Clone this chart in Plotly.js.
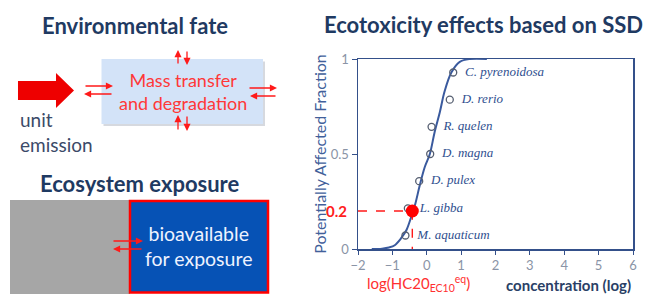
<!DOCTYPE html>
<html><head><meta charset="utf-8">
<script src="https://cdn.plot.ly/plotly-3.0.1.min.js"></script>
<style>html,body{margin:0;padding:0;background:#fff}#chart{width:646px;height:294px}</style>
</head><body><div id="chart"></div>
<script>
// ---- data ----
const species = ['C. pyrenoidosa','D. rerio','R. quelen','D. magna','D. pulex','L. gibba','M. aquaticum'];
const speciesLogConc = [0.77, 0.67, 0.14, 0.10, -0.22, -0.55, -0.62];
const speciesPAF = [0.929, 0.786, 0.643, 0.5, 0.357, 0.214, 0.071];
const ssdCurveX = [-1.6, -1.3, -1.1, -0.93, -0.74, -0.59, -0.45, -0.33, -0.21, -0.06, 0.09, 0.23, 0.38, 0.52, 0.72, 0.96, 1.25, 1.75];
const ssdCurveY = [0, 0.002, 0.008, 0.02, 0.058, 0.10, 0.17, 0.24, 0.33, 0.43, 0.50, 0.616, 0.72, 0.83, 0.93, 0.985, 1.0, 1.0];
const hc20LogConc = -0.42;
const hc20PAF = 0.2;
const xRange = [-2, 6];
const xTickVals = [-2, -1, 0, 1, 2, 3, 4, 5, 6];
const yTickVals = [0, 0.5, 1];
const yTickText = ['0', '0.5', '1'];

// ---- geometry helpers (pixel -> paper) ----
const W = 646, H = 294, ML = 358, MR = 13, MT = 59, MB = 45;
const PW = W - ML - MR, PH = H - MT - MB;
const px = x => (x - ML) / PW;
const py = y => (H - MB - y) / PH;

const RED = '#ff1a1a';
const NAVY = '#1f3a62';
const AXIS = '#34508a';

const traces = [
  { x: ssdCurveX, y: ssdCurveY, mode: 'lines', line: {color: '#3a5a9e', width: 2, shape: 'spline', smoothing: 1}, hoverinfo: 'skip', showlegend: false },
  { x: [xRange[0], hc20LogConc, hc20LogConc], y: [hc20PAF, hc20PAF, 0], mode: 'lines', line: {color: RED, width: 1.4, dash: 'dash'}, showlegend: false },
  { x: speciesLogConc, y: speciesPAF, text: species, texttemplate: '\u00a0\u00a0%{text}', mode: 'markers+text', textposition: 'middle right',
    textfont: {family: 'Liberation Serif, Times New Roman, serif', size: 13, color: '#2f4f8f', style: 'italic'},
    marker: {symbol: 'circle-open', size: 7, color: '#555e70', line: {width: 1.3}}, showlegend: false },
  { x: [hc20LogConc], y: [hc20PAF], mode: 'markers', marker: {color: '#ff0000', size: 13}, showlegend: false }
];

function arrow(hx, hy, ax, ay) {
  return {xref: 'paper', yref: 'paper', x: px(hx), y: py(hy), ax: ax, ay: ay, text: '', showarrow: true,
    arrowhead: 2, arrowsize: 1.1, arrowwidth: 1.3, arrowcolor: RED, standoff: 0, startstandoff: 0};
}
function label(text, x, y, size, color, opts) {
  return Object.assign({xref: 'paper', yref: 'paper', x: px(x), y: py(y), text: text, showarrow: false,
    font: {family: 'Lato', size: size, color: color}, xanchor: 'center', yanchor: 'middle'}, opts || {});
}

const bigArrow = [[18,81],[56,81],[56,73],[74,90.5],[56,108],[56,100],[18,100]]
  .map((p, i) => (i ? 'L' : 'M') + px(p[0]).toFixed(4) + ',' + py(p[1]).toFixed(4)).join(' ') + ' Z';

const layout = {
  width: W, height: H,
  margin: {l: ML, r: MR, t: MT, b: MB},
  paper_bgcolor: '#fff', plot_bgcolor: '#fff',
  title: {text: '<b>Ecotoxicity effects based on SSD</b>', x: 324 / W, xanchor: 'left', y: 1 - 25 / H, yanchor: 'middle',
    font: {family: 'Lato', size: 22, color: NAVY}},
  xaxis: {range: xRange, tickvals: xTickVals, showgrid: false, zeroline: false, showline: true, mirror: true,
    linecolor: AXIS, linewidth: 1.5, ticks: 'outside', ticklen: 4, tickcolor: AXIS,
    tickfont: {family: 'Lato', size: 13, color: '#8a94a6'}},
  yaxis: {range: [0, 1], tickvals: yTickVals, ticktext: yTickText, showgrid: false, zeroline: false, showline: true, mirror: true,
    linecolor: AXIS, linewidth: 1.5, ticks: 'outside', ticklen: 5, tickcolor: AXIS,
    tickfont: {family: 'Lato', size: 13, color: '#8a94a6'}, automargin: true,
    title: {text: 'Potentially Affected Fraction', standoff: 0, font: {family: 'Lato', size: 16, color: '#41609a'}}},
  shapes: [
    {type: 'rect', xref: 'paper', yref: 'paper', x0: px(103.5), x1: px(265), y0: py(61.5), y1: py(126), fillcolor: 'rgba(120,130,150,0.3)', line: {width: 0}, layer: 'below'},
    {type: 'rect', xref: 'paper', yref: 'paper', x0: px(101.5), x1: px(263), y0: py(59), y1: py(124), fillcolor: '#d3e3f8', line: {width: 0}, layer: 'below'},
    {type: 'path', xref: 'paper', yref: 'paper', path: bigArrow, fillcolor: '#ee0000', line: {width: 0}},
    {type: 'rect', xref: 'paper', yref: 'paper', x0: px(10), x1: px(130), y0: py(200), y1: py(300), fillcolor: '#a6a6a6', line: {width: 0}, layer: 'below'},
    {type: 'rect', xref: 'paper', yref: 'paper', x0: px(130), x1: px(268), y0: py(201), y1: py(292.5), fillcolor: '#0652b5', line: {width: 2.5, color: '#ff0000'}, layer: 'below'}
  ],
  annotations: [
    label('<b>Environmental fate</b>', 135, 26, 22, NAVY),
    label('<b>Ecosystem exposure</b>', 139.5, 183, 22, NAVY),
    label('Mass transfer<br>and degradation', 182.5, 91, 18, '#ff3838'),
    label('unit<br>emission', 18, 132, 19, '#3b4a68', {xanchor: 'left', align: 'left'}),
    label('bioavailable<br>for exposure', 198, 246, 19.5, '#eef3ff'),
    arrow(113, 86, -29, 0), arrow(84, 94, 29, 0),
    arrow(277, 88, -29, 0), arrow(250, 96, 27, 0),
    arrow(178, 50, 0, 15), arrow(187, 65, 0, -15),
    arrow(178, 115, 0, 16), arrow(187, 131, 0, -16),
    arrow(143, 241, -31, 0), arrow(113, 249, 30, 0),
    {xref: 'paper', yref: 'y', x: px(349), y: hc20PAF, text: '<b>0.2</b>', showarrow: false, xanchor: 'right', yanchor: 'middle',
      font: {family: 'Lato', size: 15, color: '#ff2020'}},
    label('<b>concentration (log)</b>', 633, 285, 15, '#2a3f66', {xanchor: 'right'}),
    label('log(HC20<sub>EC10</sub><sup>eq</sup>)', 365, 283, 15, '#ff3030', {xanchor: 'left'})
  ]
};

Plotly.newPlot('chart', traces, layout, {displayModeBar: false, staticPlot: true});
</script>
</body></html>
